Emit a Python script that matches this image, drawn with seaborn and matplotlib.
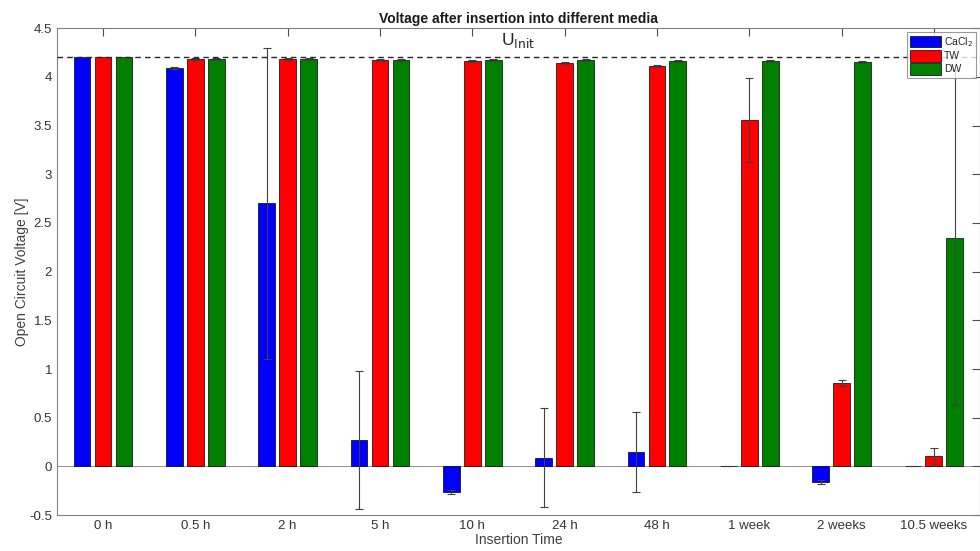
import matplotlib
matplotlib.use("Agg")
import matplotlib.pyplot as plt
from matplotlib.ticker import FuncFormatter
import numpy as np
import pandas as pd
import seaborn as sns

# ─── Data ─────────────────────────────────────────────────────────────────────
times = ["0 h", "0.5 h", "2 h", "5 h", "10 h", "24 h", "48 h",
         "1 week", "2 weeks", "10.5 weeks"]
media = ["CaCl$_2$", "TW", "DW"]

cacl2     = [4.20, 4.09, 2.70, 0.27, -0.26, 0.09, 0.15, 0.00, -0.16, 0.00]
cacl2_err = [0.00, 0.01, 1.60, 0.71, 0.02, 0.51, 0.41, 0.00, 0.02, 0.00]
tw        = [4.20, 4.18, 4.18, 4.17, 4.16, 4.14, 4.11, 3.56, 0.86, 0.11]
tw_err    = [0.00, 0.01, 0.01, 0.01, 0.01, 0.01, 0.01, 0.43, 0.03, 0.08]
dw        = [4.20, 4.18, 4.18, 4.17, 4.17, 4.17, 4.16, 4.16, 4.15, 2.35]
dw_err    = [0.00, 0.01, 0.01, 0.01, 0.01, 0.01, 0.01, 0.01, 0.01, 1.72]

u_init = 4.2
colors = ["#0000ff", "#ff0000", "#008000"]

df = pd.DataFrame({
    "time":    times * 3,
    "medium":  [m for m in media for _ in times],
    "voltage": cacl2 + tw + dw,
})
errs = [cacl2_err, tw_err, dw_err]
vals = [cacl2, tw, dw]

# ─── Plot ─────────────────────────────────────────────────────────────────────
sns.set_style("white")
plt.rcParams["font.family"] = ["Liberation Sans", "DejaVu Sans"]

fig, ax = plt.subplots(figsize=(9.8, 5.51), dpi=100)
fig.subplots_adjust(left=0.058, right=1.0, bottom=0.065, top=0.949)

sns.barplot(data=df, x="time", y="voltage", hue="medium", order=times,
            hue_order=media, palette=colors, width=0.68, gap=0.2,
            edgecolor="black", linewidth=0.5, saturation=1, errorbar=None, ax=ax)

# error bars at the centres of seaborn's bars
for cont, v, e in zip(ax.containers, vals, errs):
    xs = [p.get_x() + p.get_width() / 2 for p in cont.patches]
    ax.errorbar(xs, v, yerr=e, fmt="none", ecolor="0.25", elinewidth=0.8,
                capsize=3, capthick=0.8, zorder=3)

ax.axhline(u_init, color="0.15", ls=(0, (4, 3)), lw=1, zorder=4)
ax.text(4.5, u_init + 0.08, "U$_{\\mathrm{Init}}$", ha="center", va="bottom",
        fontsize=12.5, color="0.15")

ax.set_xlim(-0.5, 9.5)
ax.set_ylim(-0.5, 4.5)
ax.set_yticks(np.arange(-0.5, 4.51, 0.5))
ax.yaxis.set_major_formatter(FuncFormatter(lambda v, _: f"{v:g}"))

ax.set_title("Voltage after insertion into different media", fontsize=10,
             fontweight="bold", color="0.1", pad=4)
ax.set_xlabel("Insertion Time", fontsize=10, color="0.25", labelpad=1)
ax.set_ylabel("Open Circuit Voltage [V]", fontsize=10, color="0.25", labelpad=0)

ax.tick_params(direction="in", length=6, width=0.8, colors="0.3",
               labelsize=9.5, labelcolor="0.2", top=True, right=True)
for s in ax.spines.values():
    s.set_visible(True)
    s.set_color("0.5")
    s.set_linewidth(0.8)
ax.axhline(0, color="0.5", lw=0.6, zorder=0)

leg = ax.legend(loc="upper right", fontsize=7.5, frameon=True, fancybox=False,
                edgecolor="0.5", handlelength=3.0, handleheight=1.3,
                handletextpad=0.3, borderpad=0.3, labelspacing=0.15,
                borderaxespad=0.35)
leg.get_frame().set_linewidth(0.8)

fig.savefig("out.png", dpi=100)
